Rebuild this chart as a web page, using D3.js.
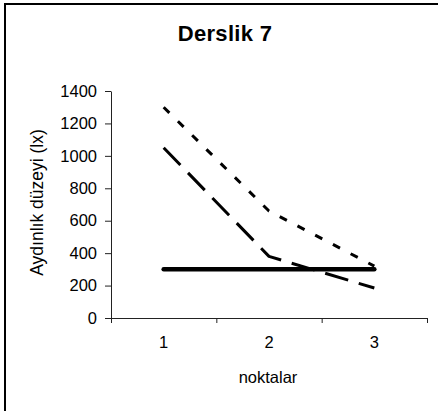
<!DOCTYPE html>
<html>
<head>
<meta charset="utf-8">
<script src="https://cdn.jsdelivr.net/npm/d3@7"></script>
<style>
  html, body { margin: 0; padding: 0; background: #fff; }
  svg { display: block; }
  text { font-family: "Liberation Sans", Arial, sans-serif; fill: #000; }
</style>
</head>
<body>
<svg id="chart" width="438" height="411"></svg>
<script>
// Illuminance readings (lx) at the measurement points of classroom 7
const points = ["1", "2", "3"];
const seriesDotted = [1300, 660, 320];
const seriesDashed = [1050, 380, 185];
const seriesSolid = [300, 300, 300];
const yTicks = [0, 200, 400, 600, 800, 1000, 1200, 1400];

const title = "Derslik 7";
const xTitle = "noktalar";
const yTitle = "Aydınlık düzeyi (lx)";

const svg = d3.select("#chart");

// outer frame
svg.append("rect")
  .attr("x", 5).attr("y", 4)
  .attr("width", 440).attr("height", 420)
  .attr("fill", "none").attr("stroke", "#000").attr("stroke-width", 2);

const plot = { left: 111, right: 427, top: 91, bottom: 318 };

const x = d3.scaleBand().domain(points).range([plot.left, plot.right]).padding(0);
const xEdges = d3.scaleLinear().domain([0, points.length]).range([plot.left, plot.right]);
const y = d3.scaleLinear().domain([0, 1400]).range([plot.bottom, plot.top]);

// y axis
const yAxis = svg.append("g")
  .attr("transform", `translate(${plot.left},0)`)
  .call(d3.axisLeft(y).tickValues(yTicks).tickFormat(d3.format("d"))
    .tickSize(6).tickSizeOuter(0).tickPadding(8));
yAxis.selectAll("text").style("font-size", "16.5px").attr("font-family", "Liberation Sans, Arial, sans-serif");

// x axis: tick marks between categories
svg.append("g")
  .attr("transform", `translate(0,${plot.bottom})`)
  .call(d3.axisBottom(xEdges).tickValues(d3.range(points.length + 1)).tickSize(5).tickSizeOuter(0).tickFormat(""));

// x axis: category labels at band centres
const xAxisLabels = svg.append("g")
  .attr("transform", `translate(0,${plot.bottom})`)
  .call(d3.axisBottom(x).tickSize(0).tickPadding(18));
xAxisLabels.select(".domain").remove();
xAxisLabels.selectAll("text").style("font-size", "16.5px").attr("font-family", "Liberation Sans, Arial, sans-serif");

svg.selectAll(".domain, .tick line").attr("stroke", "#222").attr("stroke-width", 1);

// titles
svg.append("text")
  .attr("x", 225).attr("y", 41)
  .attr("text-anchor", "middle")
  .style("font-size", "22px").style("font-weight", "bold")
  .style("letter-spacing", "0.3px")
  .text(title);

svg.append("text")
  .attr("x", 268).attr("y", 383)
  .attr("text-anchor", "middle")
  .style("font-size", "16.5px")
  .text(xTitle);

svg.append("text")
  .attr("transform", `translate(43,${(plot.top + plot.bottom) / 2 - 2}) rotate(-90)`)
  .attr("text-anchor", "middle")
  .style("font-size", "17.5px")
  .text(yTitle);

// series lines
const line = d3.line()
  .x((d, i) => x(points[i]) + x.bandwidth() / 2)
  .y(d => y(d));

const series = [
  { values: seriesDotted, width: 3, dash: "8,12" },
  { values: seriesDashed, width: 3, dash: "24,11" },
  { values: seriesSolid, width: 4.5, dash: null }
];

svg.append("g").selectAll("path")
  .data(series)
  .join("path")
  .attr("d", d => line(d.values))
  .attr("fill", "none")
  .attr("stroke", "#000")
  .attr("stroke-width", d => d.width)
  .attr("stroke-linejoin", "round")
  .attr("stroke-linecap", d => d.dash ? "butt" : "round")
  .attr("stroke-dasharray", d => d.dash);
</script>
</body>
</html>
